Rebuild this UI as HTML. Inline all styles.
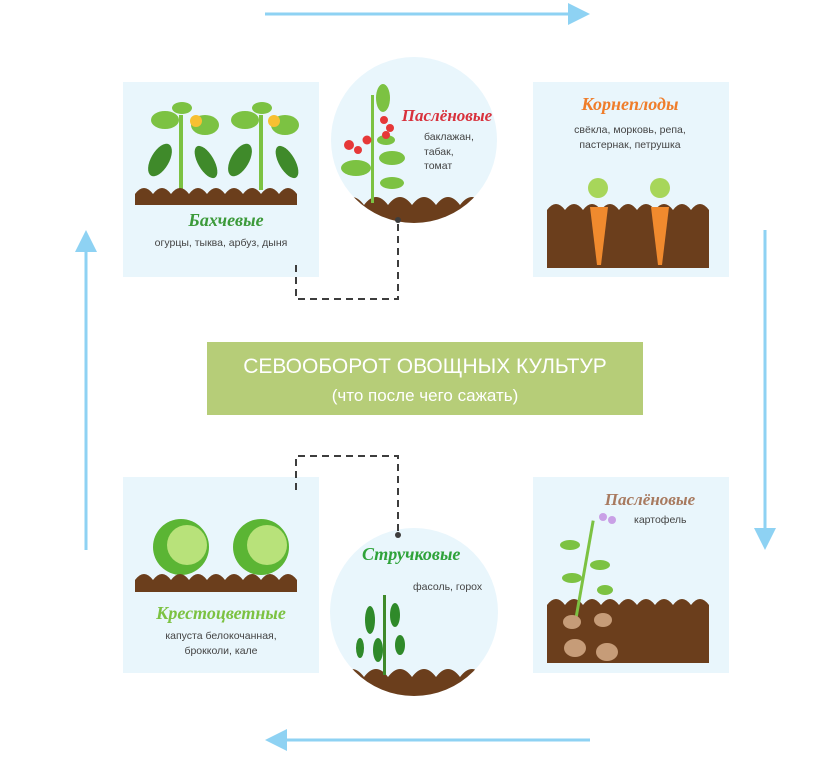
<!DOCTYPE html>
<html><head><meta charset="utf-8"><style>
body{margin:0;background:#fff;}
svg{display:block;font-family:"Liberation Sans",sans-serif;}
</style></head><body>
<svg width="840" height="758" viewBox="0 0 840 758" xmlns="http://www.w3.org/2000/svg">
<defs>
<clipPath id="c1"><circle cx="414" cy="140" r="83"/></clipPath>
<clipPath id="c2"><circle cx="414" cy="612" r="84"/></clipPath>
</defs>
<!-- arrows -->
<g stroke="#8ed2f3" stroke-width="3" fill="#8ed2f3">
<line x1="265" y1="14" x2="572" y2="14"/><polygon points="590,14 568,3 568,25" stroke="none"/>
<line x1="86" y1="550" x2="86" y2="248"/><polygon points="86,230 75,252 97,252" stroke="none"/>
<line x1="765" y1="230" x2="765" y2="532"/><polygon points="765,550 754,528 776,528" stroke="none"/>
<line x1="590" y1="740" x2="283" y2="740"/><polygon points="265,740 287,729 287,751" stroke="none"/>
</g>
<!-- boxes -->
<g fill="#e9f6fc">
<rect x="123" y="82" width="196" height="195"/>
<rect x="533" y="82" width="196" height="195"/>
<rect x="123" y="477" width="196" height="196"/>
<rect x="533" y="477" width="196" height="196"/>
</g>
<circle cx="414" cy="140" r="83" fill="#e9f6fc"/>
<circle cx="414" cy="612" r="84" fill="#e9f6fc"/>
<!-- dashed connectors -->
<g stroke="#3d3d3d" stroke-width="2" stroke-dasharray="7,5" fill="none">
<polyline points="296,265 296,299 398,299 398,224"/>
<polyline points="296,490 296,456 398,456 398,532"/>
</g>
<!-- banner -->
<rect x="207" y="342" width="436" height="73" fill="#b6cd78"/>
<text x="425" y="373" font-size="21" fill="#fff" text-anchor="middle">СЕВООБОРОТ ОВОЩНЫХ КУЛЬТУР</text>
<text x="425" y="401" font-size="17" fill="#fff" text-anchor="middle">(что после чего сажать)</text>
<!-- top-left box: cucumbers -->
<g fill="#7cc242">
<rect x="179" y="115" width="4" height="75"/><rect x="259" y="115" width="4" height="75"/>
<ellipse cx="165" cy="120" rx="14" ry="9"/><ellipse cx="205" cy="125" rx="14" ry="10"/><ellipse cx="245" cy="120" rx="14" ry="9"/><ellipse cx="285" cy="125" rx="14" ry="10"/>
<ellipse cx="182" cy="108" rx="10" ry="6"/><ellipse cx="262" cy="108" rx="10" ry="6"/>
</g>
<g fill="#3f8a2a"><ellipse cx="160" cy="160" rx="9" ry="18" transform="rotate(30 160 160)"/><ellipse cx="206" cy="162" rx="8" ry="18" transform="rotate(-30 206 162)"/><ellipse cx="240" cy="160" rx="9" ry="18" transform="rotate(30 240 160)"/><ellipse cx="287" cy="162" rx="8" ry="18" transform="rotate(-30 287 162)"/></g>
<circle cx="196" cy="121" r="6" fill="#f7c032"/><circle cx="274" cy="121" r="6" fill="#f7c032"/>
<path d="M135 194 q9-12 18 0 q9-12 18 0 q9-12 18 0 q9-12 18 0 q9-12 18 0 q9-12 18 0 q9-12 18 0 q9-12 18 0 q9-12 18 0 V205 H135Z" fill="#6b3e1c"/>
<text x="226" y="226" font-size="18" font-weight="bold" font-style="italic" fill="#3c9a3a" text-anchor="middle" font-family="Liberation Serif,serif">Бахчевые</text>
<text x="221" y="246" font-size="10.5" fill="#444" text-anchor="middle">огурцы, тыква, арбуз, дыня</text>
<!-- top circle: tomato -->
<g clip-path="url(#c1)">
<path d="M340 205 q12-16 24 0 q12-16 24 0 q12-16 24 0 q12-16 24 0 q12-16 24 0 q12-16 24 0 V240 H340Z" fill="#6b3e1c"/>
</g>
<rect x="371" y="95" width="3" height="108" fill="#7cc242"/>
<g fill="#7cc242"><ellipse cx="383" cy="98" rx="7" ry="14"/><ellipse cx="356" cy="168" rx="15" ry="8"/><ellipse cx="392" cy="158" rx="13" ry="7"/><ellipse cx="392" cy="183" rx="12" ry="6"/><ellipse cx="386" cy="140" rx="9" ry="5"/></g>
<g fill="#e63838"><circle cx="349" cy="145" r="5"/><circle cx="358" cy="150" r="4"/><circle cx="367" cy="140" r="4.5"/><circle cx="384" cy="120" r="4"/><circle cx="390" cy="128" r="4"/><circle cx="386" cy="135" r="4"/></g>
<text x="447" y="121" font-size="17" font-weight="bold" font-style="italic" fill="#d8313c" text-anchor="middle" font-family="Liberation Serif,serif">Паслёновые</text>
<text x="424" y="140" font-size="10.5" fill="#444">баклажан,</text>
<text x="424" y="155" font-size="10.5" fill="#444">табак,</text>
<text x="424" y="169" font-size="10.5" fill="#444">томат</text>
<circle cx="398" cy="220" r="3" fill="#3d3d3d"/>
<!-- top-right: carrots -->
<path d="M547 210 q9-12 18 0 q9-12 18 0 q9-12 18 0 q9-12 18 0 q9-12 18 0 q9-12 18 0 q9-12 18 0 q9-12 18 0 q9-12 18 0 V268 H547Z" fill="#6b3e1c"/>
<g fill="#a7d65a"><circle cx="598" cy="188" r="10"/><circle cx="660" cy="188" r="10"/></g>
<g fill="#f08a2e"><path d="M590 207 h18 l-7 58 h-4Z"/><path d="M651 207 h18 l-7 58 h-4Z"/></g>
<text x="630" y="110" font-size="18" font-weight="bold" font-style="italic" fill="#ef7d2a" text-anchor="middle" font-family="Liberation Serif,serif">Корнеплоды</text>
<text x="630" y="133" font-size="10.5" fill="#444" text-anchor="middle">свёкла, морковь, репа,</text>
<text x="630" y="148" font-size="10.5" fill="#444" text-anchor="middle">пастернак, петрушка</text>
<!-- bottom-left: cabbage -->
<g fill="#5bb534"><circle cx="181" cy="547" r="28"/><circle cx="261" cy="547" r="28"/></g>
<g fill="#b8e27a"><circle cx="187" cy="545" r="20"/><circle cx="267" cy="545" r="20"/></g>
<path d="M135 580 q9-12 18 0 q9-12 18 0 q9-12 18 0 q9-12 18 0 q9-12 18 0 q9-12 18 0 q9-12 18 0 q9-12 18 0 q9-12 18 0 V592 H135Z" fill="#6b3e1c"/>
<text x="221" y="619" font-size="18" font-weight="bold" font-style="italic" fill="#7cc242" text-anchor="middle" font-family="Liberation Serif,serif">Крестоцветные</text>
<text x="221" y="639" font-size="10.5" fill="#444" text-anchor="middle">капуста белокочанная,</text>
<text x="221" y="654" font-size="10.5" fill="#444" text-anchor="middle">брокколи, кале</text>
<!-- bottom circle: peas -->
<g clip-path="url(#c2)">
<path d="M340 677 q12-16 24 0 q12-16 24 0 q12-16 24 0 q12-16 24 0 q12-16 24 0 q12-16 24 0 V710 H340Z" fill="#6b3e1c"/>
</g>
<rect x="383" y="595" width="3" height="80" fill="#3f8a2a"/>
<g fill="#2f8a2a"><ellipse cx="370" cy="620" rx="5" ry="14"/><ellipse cx="395" cy="615" rx="5" ry="12"/><ellipse cx="378" cy="650" rx="5" ry="12"/><ellipse cx="360" cy="648" rx="4" ry="10"/><ellipse cx="400" cy="645" rx="5" ry="10"/></g>
<text x="362" y="560" font-size="18" font-weight="bold" font-style="italic" fill="#2fa33a" font-family="Liberation Serif,serif">Стручковые</text>
<text x="413" y="590" font-size="10.5" fill="#444">фасоль, горох</text>
<circle cx="398" cy="535" r="3" fill="#3d3d3d"/>
<!-- bottom-right: potato -->
<path d="M547 605 q9-12 18 0 q9-12 18 0 q9-12 18 0 q9-12 18 0 q9-12 18 0 q9-12 18 0 q9-12 18 0 q9-12 18 0 q9-12 18 0 V663 H547Z" fill="#6b3e1c"/>
<rect x="583" y="520" width="3" height="100" fill="#7cc242" transform="rotate(10 585 570)"/>
<g fill="#7cc242"><ellipse cx="570" cy="545" rx="10" ry="5"/><ellipse cx="600" cy="565" rx="10" ry="5"/><ellipse cx="572" cy="578" rx="10" ry="5"/><ellipse cx="605" cy="590" rx="8" ry="5"/></g>
<g fill="#c69c78"><ellipse cx="572" cy="622" rx="9" ry="7"/><ellipse cx="603" cy="620" rx="9" ry="7"/><ellipse cx="575" cy="648" rx="11" ry="9"/><ellipse cx="607" cy="652" rx="11" ry="9"/></g>
<g fill="#c9a0e6"><circle cx="603" cy="517" r="4"/><circle cx="612" cy="520" r="4"/></g>
<text x="650" y="505" font-size="17" font-weight="bold" font-style="italic" fill="#a87a5f" text-anchor="middle" font-family="Liberation Serif,serif">Паслёновые</text>
<text x="634" y="523" font-size="10.5" fill="#444">картофель</text>
</svg>
</body></html>
